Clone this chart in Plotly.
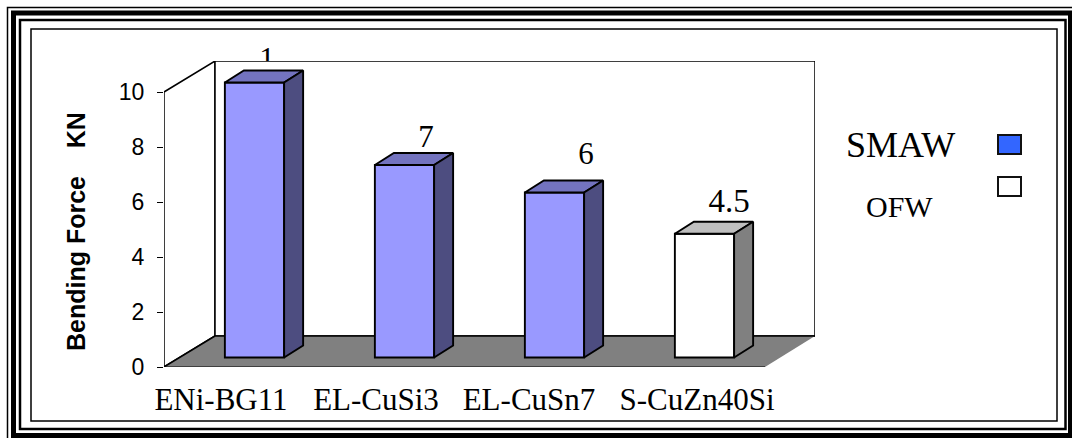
import plotly.graph_objects as go

# Chart content
categories = ["ENi-BG11", "EL-CuSi3", "EL-CuSn7", "S-CuZn40Si"]
forces = [10, 7, 6, 4.5]
value_labels = ["1", "7", "6", "4.5"]
y_ticks = [0, 2, 4, 6, 8, 10]
axis_title = "<b>Bending Force\u00a0\u00a0\u00a0\u00a0KN</b>"
legend_names = ["SMAW", "OFW"]

# Bar colours: front, top and side faces
front_colors = ["#9999FF", "#9999FF", "#9999FF", "#FFFFFF"]
top_colors = ["#7373BF", "#7373BF", "#7373BF", "#BFBFBF"]
side_colors = ["#4D4D80", "#4D4D80", "#4D4D80", "#808080"]
legend_colors = ["#3366FF", "#FFFFFF"]

# Page size and scale of the plot area
W, H = 1072, 438
PX_PER_X, PX_PER_Y = 150, 27.5
LEFT, RIGHT, TOP, BOTTOM = 164, 815, 61, 367
FIRST_BAR = 254.5
x_range = [(LEFT - FIRST_BAR) / PX_PER_X, (RIGHT - FIRST_BAR) / PX_PER_X]
y_range = [0, (BOTTOM - TOP) / PX_PER_Y]

# Pseudo-3D geometry, in axis units
bar_width = 0.395
bar_base = 0.345
bar_dx, bar_dy = 19 / PX_PER_X, 12 / PX_PER_Y
wall_dx, wall_dy = 51 / PX_PER_X, 31 / PX_PER_Y
floor_right = (765 - FIRST_BAR) / PX_PER_X
bar_edge = 1.9

# Where the text sits relative to its bar
label_dx_px = [12.5, 21.5, 31.5, 24.5]
label_dy_px = [21.5, 26, 36, 30]
sizes = [31, 31, 31, 33]
tick_label_px = [221, 376, 529, 697]

INK = "#000000"
FLOOR = "#808080"


def px(x):
    return x / W


def py(y):
    return 1 - y / H


def frame(x0, y0, x1, y1, width, color=INK):
    return dict(type="rect", xref="paper", yref="paper", x0=px(x0), x1=px(x1), y0=py(y0), y1=py(y1),
                line=dict(color=color, width=width), fillcolor="rgba(0,0,0,0)", layer="below")


def poly(points, fill, line_width=1.5, line_color=INK):
    path = "M " + " L ".join(f"{x},{y}" for x, y in points) + " Z"
    return dict(type="path", xref="x", yref="y", path=path, fillcolor=fill,
                line=dict(color=line_color, width=line_width), layer="below")


xl, xr = x_range
ytop = y_range[1]
ten = y_ticks[-1]

shapes = [
    # Nested page borders
    frame(7.5, 7.5, 1076, 442, 1.5),
    frame(13.5, 13, 1070.5, 435.5, 5),
    frame(20, 20, 1065.5, 429, 2.5),
    frame(31, 29, 1057, 421, 1.5),
    # Side wall, back wall and floor of the chart box
    poly([(xl, 0), (xl + wall_dx, wall_dy), (xl + wall_dx, ytop), (xl, ten)], "#FFFFFF"),
    poly([(xl + wall_dx, wall_dy), (xr, wall_dy), (xr, ytop), (xl + wall_dx, ytop)], "#FFFFFF"),
    poly([(xl, 0), (floor_right, 0), (xr, wall_dy), (xl + wall_dx, wall_dy)], FLOOR, 0),
    dict(type="line", xref="x", yref="y", x0=xl, x1=floor_right, y0=0, y1=0,
         line=dict(color=INK, width=1), layer="below"),
    dict(type="line", xref="x", yref="y", x0=xl, x1=xl + wall_dx, y0=0, y1=wall_dy,
         line=dict(color=INK, width=1.5), layer="below"),
    dict(type="line", xref="x", yref="y", x0=xl + wall_dx, x1=xr, y0=wall_dy, y1=wall_dy,
         line=dict(color=INK, width=1.5), layer="below"),
]

fig = go.Figure()

# Front faces
fig.add_trace(go.Bar(
    x=list(range(len(forces))), y=forces, base=bar_base, width=bar_width,
    marker=dict(color=front_colors, line=dict(color=INK, width=bar_edge)),
    showlegend=False, hoverinfo="skip",
))

# Top and side faces, then the value labels
for i, v in enumerate(forces):
    x0, x1 = i - bar_width / 2, i + bar_width / 2
    y0, y1 = bar_base, bar_base + v
    top = [(x0, y1), (x1, y1), (x1 + bar_dx, y1 + bar_dy), (x0 + bar_dx, y1 + bar_dy), (x0, y1)]
    side = [(x1, y0), (x1 + bar_dx, y0 + bar_dy), (x1 + bar_dx, y1 + bar_dy), (x1, y1), (x1, y0)]
    for pts, color in ((top, top_colors[i]), (side, side_colors[i])):
        fig.add_trace(go.Scatter(
            x=[p[0] for p in pts], y=[p[1] for p in pts], mode="lines", fill="toself",
            fillcolor=color, line=dict(color=INK, width=bar_edge), showlegend=False, hoverinfo="skip",
        ))
    fig.add_trace(go.Scatter(
        x=[i + label_dx_px[i] / PX_PER_X], y=[y1 + label_dy_px[i] / PX_PER_Y],
        mode="text", text=[value_labels[i]], textposition="middle center",
        textfont=dict(family="Liberation Serif", size=sizes[i], color=INK),
        yaxis="y2" if i == 0 else "y", cliponaxis=i == 0,
        showlegend=False, hoverinfo="skip",
    ))

annotations = [
    dict(xref="paper", yref="paper", x=px(75.5), y=py(231.5), text=axis_title, textangle=-90,
         showarrow=False, xanchor="center", yanchor="middle",
         font=dict(family="Liberation Sans", size=25, color=INK)),
    dict(xref="paper", yref="paper", x=px(900), y=py(145), text=legend_names[0], showarrow=False,
         xanchor="center", yanchor="middle", font=dict(family="Liberation Serif", size=36, color=INK)),
    dict(xref="paper", yref="paper", x=px(899), y=py(206), text=legend_names[1], showarrow=False,
         xanchor="center", yanchor="middle", font=dict(family="Liberation Serif", size=30, color=INK)),
]

# Legend swatches
for (y0, y1), color in zip(((135, 154), (177, 196)), legend_colors):
    shapes.append(dict(type="rect", xref="paper", yref="paper", x0=px(998), x1=px(1021),
                       y0=py(y0), y1=py(y1), fillcolor=color, line=dict(color="#111111", width=2)))

fig.update_layout(
    template="none",
    width=W, height=H, margin=dict(l=0, r=0, t=0, b=0),
    paper_bgcolor="#FFFFFF", plot_bgcolor="rgba(0,0,0,0)",
    shapes=shapes, annotations=annotations, showlegend=False,
    xaxis=dict(
        domain=[px(LEFT), px(RIGHT)], range=x_range, showgrid=False, zeroline=False, showline=False,
        automargin=False,
        tickmode="array", tickvals=[(p - FIRST_BAR) / PX_PER_X for p in tick_label_px], ticktext=categories,
        ticks="", ticklabelstandoff=11,
        tickfont=dict(family="Liberation Serif", size=31, color=INK),
    ),
    yaxis=dict(
        domain=[py(BOTTOM), py(TOP)], range=y_range, showgrid=False, zeroline=False, showline=False,
        automargin=False,
        tickmode="array", tickvals=y_ticks, ticks="outside", ticklen=6, tickcolor=INK, tickwidth=1,
        ticklabelstandoff=8, tickfont=dict(family="Liberation Sans", size=23, color=INK),
    ),
    # Thin strip above the box: the first value label is cut off at its lower edge
    yaxis2=dict(
        domain=[py(TOP), 1], range=[y_range[1], BOTTOM / PX_PER_Y], anchor="x", visible=False,
    ),
)

fig.write_html("out.html")
